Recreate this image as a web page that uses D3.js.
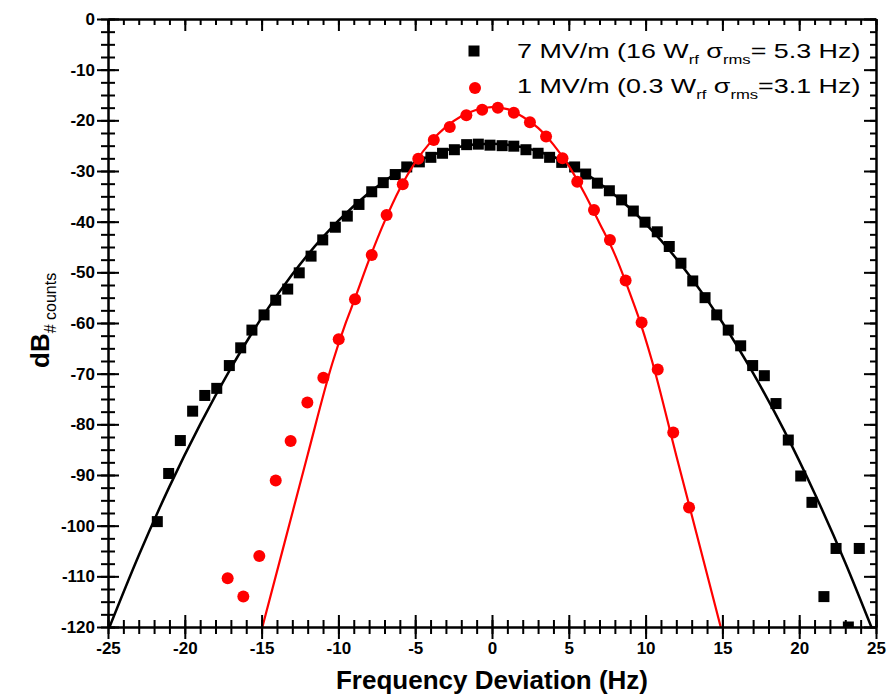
<!DOCTYPE html>
<html><head><meta charset="utf-8">
<script src="https://cdn.jsdelivr.net/npm/d3@7"></script>
<style>body{margin:0;background:#fff}svg{display:block}</style>
</head><body><svg id="c" width="891" height="696"></svg>
<script>
// ---- data ----
const blackX = [-21.79,-21.05,-20.29,-19.49,-18.70,-17.92,-17.10,-16.36,-15.63,-14.84,-14.08,-13.30,-12.55,-11.78,-11.02,-10.20,-9.42,-8.66,-7.83,-7.08,-6.30,-5.55,-4.73,-3.98,-3.22,-2.45,-1.65,-0.89,-0.13,0.66,1.42,2.21,3.00,3.75,4.54,5.38,6.10,6.86,7.64,8.44,9.20,9.96,10.76,11.54,12.30,13.07,13.87,14.63,15.38,16.19,16.97,17.73,18.49,19.29,20.10,20.83,21.61,22.40,23.20,23.91];
const blackY = [-99.2,-89.7,-83.2,-77.4,-74.3,-72.9,-68.4,-64.9,-61.4,-58.4,-55.5,-53.3,-50.1,-46.8,-43.6,-41.1,-38.9,-36.6,-34.1,-32.3,-30.7,-29.2,-28.2,-27.3,-26.5,-25.8,-24.8,-24.7,-24.9,-25.0,-25.1,-25.8,-26.5,-27.3,-28.3,-29.2,-30.6,-32.4,-33.9,-35.7,-37.9,-40.1,-42.0,-44.9,-48.2,-51.7,-55.0,-58.4,-61.4,-64.5,-68.4,-70.4,-75.9,-83.1,-90.2,-95.4,-114.0,-104.5,-120.0,-104.5];
const redX = [-17.21,-16.19,-15.15,-14.08,-13.11,-12.02,-10.98,-9.98,-8.92,-7.83,-6.86,-5.81,-4.80,-3.79,-2.75,-1.67,-0.64,0.38,1.42,2.47,3.52,4.59,5.55,6.64,7.68,8.70,9.74,10.79,11.80,12.83];
const redY = [-110.4,-114.0,-106.0,-91.1,-83.3,-75.7,-70.8,-63.2,-55.3,-46.6,-38.7,-32.6,-27.6,-23.9,-21.3,-19.0,-17.9,-17.5,-18.5,-20.4,-23.2,-27.5,-32.1,-37.7,-43.6,-51.6,-59.9,-69.2,-81.6,-96.4];
const blackFitX = [-24.9,-23,-21,-19,-17,-15,-13,-11,-9,-7,-5,-3,-1,0,1,3,5,7,9,11,13,15,17,19,21,23,24.7];
const blackFitY = [-120,-105.9,-92.3,-80.0,-68.9,-59.0,-50.4,-43.0,-36.9,-32.0,-28.3,-25.9,-24.7,-24.6,-24.8,-26.1,-28.6,-32.4,-37.4,-43.7,-51.2,-59.9,-69.9,-81.1,-93.6,-107.3,-120];
const redFitX = [-14.95,-13.5,-12,-10.4,-9.5,-9,-8,-7,-6,-5,-4,-3,-2,-1,0,1,2,3,4,5,6,7,8,9,9.5,10.4,12,13.5,14.89];
const redFitY = [-120,-103.3,-86,-68,-59.8,-55.8,-47.5,-40,-33.5,-28.3,-24.3,-21.3,-19.2,-17.9,-17.4,-17.8,-19.3,-21.5,-24.8,-29,-34.3,-40.3,-46.5,-54.3,-58.5,-67.3,-86.2,-103.7,-120];
const xTickValues = [-25,-20,-15,-10,-5,0,5,10,15,20,25];
const yTickValues = [0,-10,-20,-30,-40,-50,-60,-70,-80,-90,-100,-110,-120];
const legendParts = [
  [["7 MV/m (16 W",0],["rf",1],[" \u03c3",0],["rms",1],["= 5.3 Hz)",0]],
  [["1 MV/m (0.3 W",0],["rf",1],[" \u03c3",0],["rms",1],["=3.1 Hz)",0]]
];
const xTitle = "Frequency Deviation (Hz)";
const yTitleMain = "dB", yTitleSub = "# counts";

// ---- drawing ----
const svg = d3.select('#c');
const L = 108, R = 876, T = 19, B = 627;
const x = d3.scaleLinear().domain([-25,25]).range([L,R]);
const y = d3.scaleLinear().domain([-120,0]).range([B,T]);
const FONT = "'Liberation Sans', Arial, Helvetica, sans-serif";
const fmt = d => String(d);

svg.append('defs').append('clipPath').attr('id','clip')
  .append('rect').attr('x',L).attr('y',T).attr('width',R-L).attr('height',B-T);

const plot = svg.append('g').attr('clip-path','url(#clip)');
const lineGen = d3.line().x(d=>x(d[0])).y(d=>y(d[1])).curve(d3.curveMonotoneX);

// black fit + squares
plot.append('path').datum(blackFitX.map((v,i)=>[v,blackFitY[i]]))
  .attr('d',lineGen).attr('fill','none').attr('stroke','#000').attr('stroke-width',2.5);
const sq = 11;
plot.selectAll('rect.bs').data(blackX.map((v,i)=>[v,blackY[i]])).enter().append('rect')
  .attr('x',d=>x(d[0])-sq/2).attr('y',d=>y(d[1])-sq/2).attr('width',sq).attr('height',sq).attr('fill','#000');
// red fit + circles
plot.append('path').datum(redFitX.map((v,i)=>[v,redFitY[i]]))
  .attr('d',lineGen).attr('fill','none').attr('stroke','#ff0000').attr('stroke-width',2.2);
plot.selectAll('circle.rc').data(redX.map((v,i)=>[v,redY[i]])).enter().append('circle')
  .attr('cx',d=>x(d[0])).attr('cy',d=>y(d[1])).attr('r',6).attr('fill','#ff0000');

// axes
function styleAxis(g){
  g.select('.domain').attr('stroke','#000').attr('stroke-width',2);
  g.selectAll('.tick line').attr('stroke','#000').attr('stroke-width',2);
  g.selectAll('.tick text').attr('font-family',FONT).attr('font-weight','bold').attr('font-size',17).attr('fill','#000');
}
const xMinor = d3.range(-25,25.01,1);
const yMinor = d3.range(-120,0.01,2.5);

// bottom
let g = svg.append('g').attr('transform',`translate(0,${B})`)
  .call(d3.axisBottom(x).tickValues(xMinor).tickSize(7).tickSizeOuter(0).tickFormat(''));
g.selectAll('.tick line').attr('y1',-7); styleAxis(g);
g = svg.append('g').attr('transform',`translate(0,${B})`)
  .call(d3.axisBottom(x).tickValues(xTickValues).tickSize(12).tickSizeOuter(0).tickPadding(3).tickFormat(fmt));
g.selectAll('.tick line').attr('y1',-12); styleAxis(g);
// left
g = svg.append('g').attr('transform',`translate(${L},0)`)
  .call(d3.axisLeft(y).tickValues(yMinor).tickSize(7).tickSizeOuter(0).tickFormat(''));
g.selectAll('.tick line').attr('x1',7); styleAxis(g);
g = svg.append('g').attr('transform',`translate(${L},0)`)
  .call(d3.axisLeft(y).tickValues(yTickValues).tickSize(11).tickSizeOuter(0).tickPadding(2).tickFormat(fmt));
g.selectAll('.tick line').attr('x1',11); styleAxis(g);
// top (inward)
g = svg.append('g').attr('transform',`translate(0,${T})`)
  .call(d3.axisTop(x).tickValues(xMinor).tickSize(-6).tickSizeOuter(0).tickFormat('')); styleAxis(g);
g = svg.append('g').attr('transform',`translate(0,${T})`)
  .call(d3.axisTop(x).tickValues(xTickValues).tickSize(-12).tickSizeOuter(0).tickFormat('')); styleAxis(g);
// right (inward)
g = svg.append('g').attr('transform',`translate(${R},0)`)
  .call(d3.axisRight(y).tickValues(yMinor).tickSize(-6).tickSizeOuter(0).tickFormat('')); styleAxis(g);
g = svg.append('g').attr('transform',`translate(${R},0)`)
  .call(d3.axisRight(y).tickValues(yTickValues).tickSize(-12).tickSizeOuter(0).tickFormat('')); styleAxis(g);

// axis titles
svg.append('text').attr('x',(L+R)/2).attr('y',689).attr('text-anchor','middle')
  .attr('font-family',FONT).attr('font-weight','bold').attr('font-size',26).text(xTitle);
const yt = svg.append('text').attr('transform','translate(49,368) rotate(-90)')
  .attr('font-family',FONT).attr('fill','#000');
yt.append('tspan').attr('font-weight','bold').attr('font-size',26).text(yTitleMain);
yt.append('tspan').attr('font-size',16).attr('dy',7).text(yTitleSub);

// legend
const leg = svg.append('g');
legendParts.forEach((parts,i)=>{
  const cy = 51 + i*37;
  if(i===0) leg.append('rect').attr('x',474-sq/2).attr('y',cy-sq/2).attr('width',sq).attr('height',sq).attr('fill','#000');
  else leg.append('circle').attr('cx',475).attr('cy',cy).attr('r',6).attr('fill','#ff0000');
  const t = leg.append('text').attr('transform',`translate(517,${58+i*35}) scale(1.28,1)`)
    .attr('font-family',FONT).attr('font-size',21).attr('fill','#000');
  let sub = 0;
  parts.forEach(([s,isSub])=>{
    const ts = t.append('tspan').text(s);
    if(isSub && !sub){ ts.attr('dy',6).attr('font-size',13); sub=1; }
    else if(isSub){ ts.attr('font-size',13); }
    else if(sub){ ts.attr('dy',-6); sub=0; }
  });
});
</script></body></html>
